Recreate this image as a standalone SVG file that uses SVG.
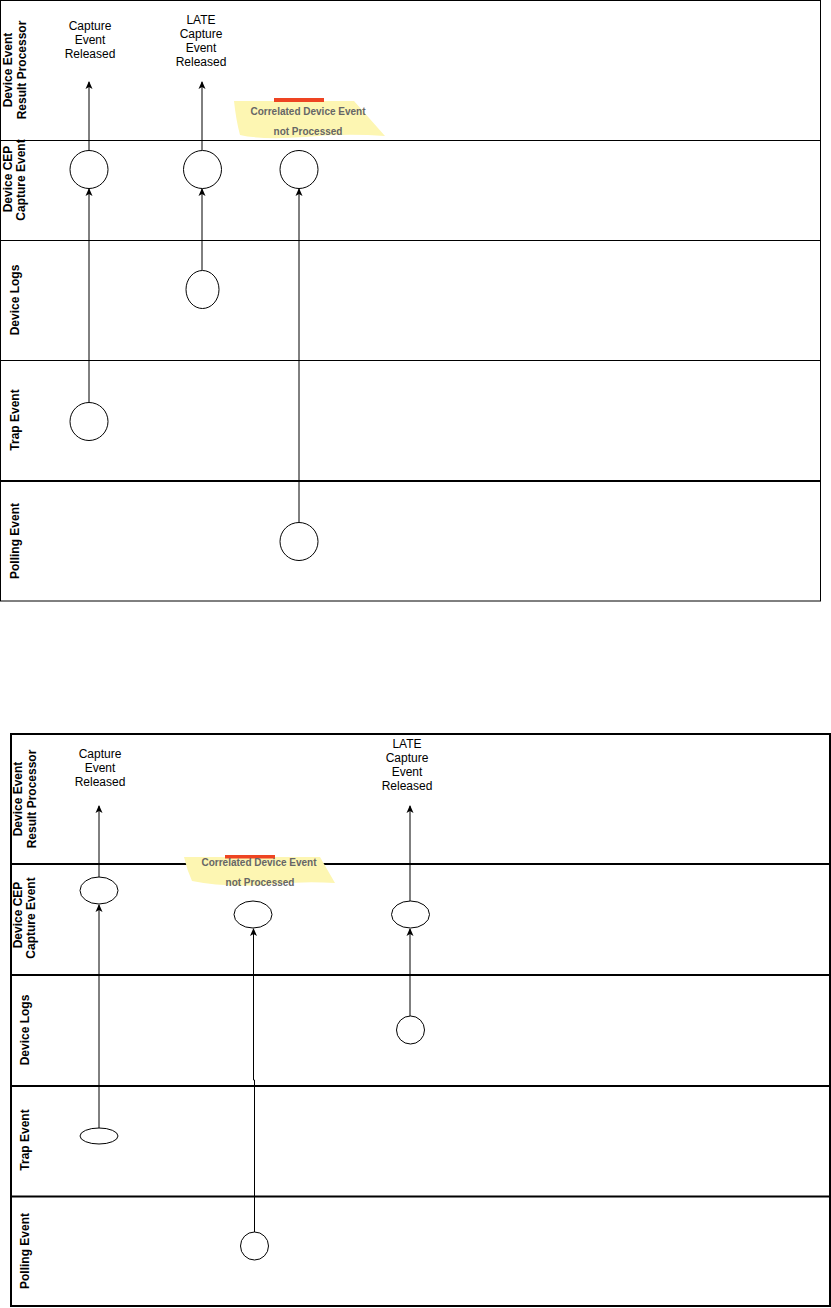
<svg xmlns="http://www.w3.org/2000/svg" width="831" height="1308" viewBox="0 0 831 1308">
<style>
.lane{fill:none;stroke:#000;stroke-width:1}
.lane2{fill:none;stroke:#000;stroke-width:2}
.node{fill:#fff;stroke:#000;stroke-width:1}
.conn{fill:none;stroke:#000;stroke-width:1}
.lbl{font-family:"Liberation Sans",Arial,sans-serif;font-size:12px;font-weight:bold;fill:#000;text-anchor:middle}
.txt{font-family:"Liberation Sans",Arial,sans-serif;font-size:12px;fill:#000;text-anchor:middle}
.note{fill:#fdf6b2}
.ntxt{font-family:"Liberation Sans",Arial,sans-serif;font-size:10px;font-weight:bold;fill:#666;text-anchor:middle}
.bar{fill:#ee4422}
</style>
<defs>
<marker id="arr" viewBox="0 0 8 8" refX="7" refY="4" markerWidth="8" markerHeight="8" markerUnits="userSpaceOnUse" orient="auto">
<path d="M0,0.5 L8,4 L0,7.5 L2,4 Z" fill="#000"/>
</marker>
</defs>
<rect width="831" height="1308" fill="#fff"/>

<!-- TOP DIAGRAM -->
<g id="pool-top">
<rect class="lane" x="0.5" y="0.5" width="820" height="600.5"/>
<line class="lane" x1="0" y1="140.5" x2="820.5" y2="140.5"/>
<line class="lane" x1="0" y1="240.5" x2="820.5" y2="240.5"/>
<line class="lane" x1="0" y1="360.5" x2="820.5" y2="360.5"/>
<line class="lane2" x1="0" y1="481" x2="820.5" y2="481"/>
</g>
<g id="lane-top-1"><text class="lbl" transform="translate(12,70) rotate(-90)">Device Event</text><text class="lbl" transform="translate(26,70) rotate(-90)">Result Processor</text></g>
<g id="lane-top-2"><text class="lbl" transform="translate(12,179) rotate(-90)">Device CEP</text><text class="lbl" transform="translate(25,180) rotate(-90)">Capture Event</text></g>
<g id="lane-top-3"><text class="lbl" transform="translate(19,300) rotate(-90)">Device Logs</text></g>
<g id="lane-top-4"><text class="lbl" transform="translate(19,420) rotate(-90)">Trap Event</text></g>
<g id="lane-top-5"><text class="lbl" transform="translate(19,541) rotate(-90)">Polling Event</text></g>

<g id="note-top">
<path class="note" d="M234,101 L354,101 L385,136 Q345,133 305,137 Q262,140 240,135 Q236,120 234,101 Z"/>
<rect class="bar" x="274" y="98" width="50" height="4"/>
<text class="ntxt" x="308" y="115">Correlated Device Event</text>
<text class="ntxt" x="308" y="135">not Processed</text>
</g>

<g id="label-top-released"><text class="txt" x="90" y="30">Capture</text><text class="txt" x="90" y="44">Event</text><text class="txt" x="90" y="58">Released</text></g>
<g id="label-top-late"><text class="txt" x="201" y="24">LATE</text><text class="txt" x="201" y="38">Capture</text><text class="txt" x="201" y="52">Event</text><text class="txt" x="201" y="66">Released</text></g>

<g id="connectors-top">
<line class="conn" x1="89" y1="402" x2="89" y2="189" marker-end="url(#arr)"/>
<line class="conn" x1="89" y1="150" x2="89" y2="82" marker-end="url(#arr)"/>
<line class="conn" x1="202" y1="150" x2="202" y2="82" marker-end="url(#arr)"/>
<line class="conn" x1="202" y1="270" x2="202" y2="189" marker-end="url(#arr)"/>
<line class="conn" x1="299" y1="522" x2="299" y2="189" marker-end="url(#arr)"/>
</g>

<g id="t-cep-1"><circle class="node" cx="89" cy="169.5" r="19"/></g>
<g id="t-cep-2"><circle class="node" cx="202.5" cy="169.5" r="19"/></g>
<g id="t-cep-3"><circle class="node" cx="299" cy="169.5" r="19"/></g>
<g id="t-log-1"><ellipse class="node" cx="202.5" cy="289.5" rx="16.5" ry="19"/></g>
<g id="t-trap-1"><circle class="node" cx="89" cy="421.5" r="19"/></g>
<g id="t-poll-1"><circle class="node" cx="299" cy="541.5" r="19"/></g>

<!-- BOTTOM DIAGRAM -->
<g id="pool-bottom">
<rect class="lane2" x="11" y="734" width="819" height="572"/>
<line class="lane2" x1="11" y1="864" x2="831" y2="864"/>
<line class="lane2" x1="11" y1="975" x2="831" y2="975"/>
<line class="lane2" x1="11" y1="1086" x2="831" y2="1086"/>
<line class="lane2" x1="11" y1="1196.5" x2="831" y2="1196.5"/>
</g>
<g id="lane-bot-1"><text class="lbl" transform="translate(22,799) rotate(-90)">Device Event</text><text class="lbl" transform="translate(35.5,799) rotate(-90)">Result Processor</text></g>
<g id="lane-bot-2"><text class="lbl" transform="translate(22,915) rotate(-90)">Device CEP</text><text class="lbl" transform="translate(35,918) rotate(-90)">Capture Event</text></g>
<g id="lane-bot-3"><text class="lbl" transform="translate(28.5,1030) rotate(-90)">Device Logs</text></g>
<g id="lane-bot-4"><text class="lbl" transform="translate(28.5,1140) rotate(-90)">Trap Event</text></g>
<g id="lane-bot-5"><text class="lbl" transform="translate(28.5,1251) rotate(-90)">Polling Event</text></g>

<g id="note-bottom">
<path class="note" d="M184,857 L320,857 L335,883 Q300,881 262,885 Q222,887 192,881 Q187,870 184,857 Z"/>
<rect class="bar" x="225" y="855" width="50" height="3.5"/>
<text class="ntxt" x="259" y="866">Correlated Device Event</text>
<text class="ntxt" x="260" y="886">not Processed</text>
</g>

<g id="label-bot-released"><text class="txt" x="100" y="758">Capture</text><text class="txt" x="100" y="772">Event</text><text class="txt" x="100" y="786">Released</text></g>
<g id="label-bot-late"><text class="txt" x="407" y="747.5">LATE</text><text class="txt" x="407" y="761.5">Capture</text><text class="txt" x="407" y="775.5">Event</text><text class="txt" x="407" y="789.5">Released</text></g>

<g id="connectors-bottom">
<line class="conn" x1="99" y1="1128" x2="99" y2="905" marker-end="url(#arr)"/>
<line class="conn" x1="99" y1="877" x2="99" y2="806" marker-end="url(#arr)"/>
<line class="conn" x1="410" y1="901" x2="410" y2="806" marker-end="url(#arr)"/>
<line class="conn" x1="410" y1="1016" x2="410" y2="929" marker-end="url(#arr)"/>
<polyline class="conn" points="254.5,1232 254.5,1080 253.5,1080 253.5,929" marker-end="url(#arr)"/>
</g>

<g id="b-cep-1"><ellipse class="node" cx="99" cy="890.5" rx="19" ry="13.5"/></g>
<g id="b-cep-2"><ellipse class="node" cx="253" cy="914.5" rx="19" ry="13.5"/></g>
<g id="b-cep-3"><ellipse class="node" cx="410.5" cy="914.5" rx="19" ry="13.5"/></g>
<g id="b-log-1"><circle class="node" cx="410.5" cy="1030" r="14"/></g>
<g id="b-trap-1"><ellipse class="node" cx="99" cy="1136" rx="19" ry="8"/></g>
<g id="b-poll-1"><circle class="node" cx="254.5" cy="1246" r="14"/></g>
</svg>
